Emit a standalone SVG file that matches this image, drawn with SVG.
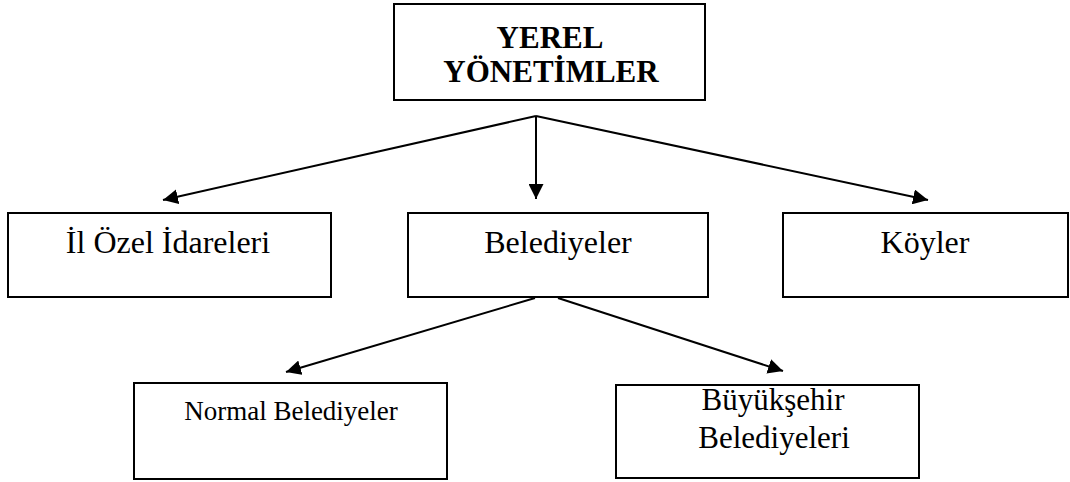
<svg xmlns="http://www.w3.org/2000/svg" width="1070" height="482" viewBox="0 0 1070 482">
<defs>
<style>
.box{fill:#fff;stroke:#000;stroke-width:2}
.t{font-family:"Liberation Serif","Times New Roman",serif;fill:#000;text-anchor:middle}
.b{font-weight:bold;font-size:31px}
.n{font-size:32px}
.edge{stroke:#000;stroke-width:2;fill:none;marker-end:url(#ah)}
</style>
<marker id="ah" viewBox="0 0 15 15" refX="15" refY="7.5" markerWidth="15" markerHeight="15" markerUnits="userSpaceOnUse" orient="auto">
<path d="M0,0 L15,7.5 L0,15 Z" fill="#000"/>
</marker>
</defs>
<rect width="1070" height="482" fill="#fff"/>
<g id="connectors">
<line class="edge" x1="536" y1="116" x2="163" y2="200"/>
<line class="edge" x1="536" y1="116" x2="536" y2="199"/>
<line class="edge" x1="536" y1="116" x2="928" y2="200"/>
<line class="edge" x1="535" y1="298" x2="286" y2="372"/>
<line class="edge" x1="558" y1="298" x2="783" y2="371"/>
</g>
<g id="yerel">
<rect class="box" x="394" y="4" width="311" height="96"/>
<text class="t b" x="550" y="48">YEREL</text>
<text class="t b" x="551" y="82">YÖNETİMLER</text>
</g>
<g id="il-ozel">
<rect class="box" x="8" y="213" width="323" height="84"/>
<text class="t n" x="168" y="253">İl Özel İdareleri</text>
</g>
<g id="belediyeler">
<rect class="box" x="408" y="213" width="300" height="84"/>
<text class="t n" x="558" y="253">Belediyeler</text>
</g>
<g id="koyler">
<rect class="box" x="783" y="213" width="285" height="84"/>
<text class="t n" x="925" y="253">Köyler</text>
</g>
<g id="normal">
<rect class="box" x="134" y="383" width="313" height="96"/>
<text class="t" style="font-size:27px" x="291" y="420">Normal Belediyeler</text>
</g>
<g id="buyuksehir">
<rect class="box" x="616" y="385" width="303" height="93"/>
<text class="t" style="font-size:31px" x="773" y="410">Büyükşehir</text>
<text class="t" style="font-size:31px" x="774" y="448">Belediyeleri</text>
</g>
</svg>
